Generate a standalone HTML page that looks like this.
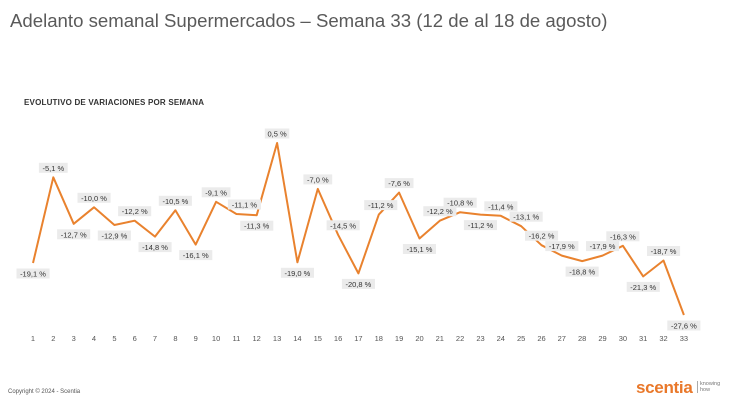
<!DOCTYPE html>
<html><head><meta charset="utf-8"><style>
body{margin:0;width:730px;height:402px;background:#fff;font-family:"Liberation Sans",sans-serif;overflow:hidden;position:relative}
.t{position:absolute;left:10px;top:10px;font-size:18.6px;color:#5a5a5a;white-space:nowrap}
.s{position:absolute;left:24px;top:98px;font-size:8px;font-weight:bold;color:#333;letter-spacing:0.2px}
.c{position:absolute;left:8px;top:389px;font-size:6px;color:#555}
.logo{position:absolute;left:636px;top:378px;font-size:17px;font-weight:bold;color:#e9782a;letter-spacing:-0.3px}
.kh{position:absolute;left:697px;top:381px;font-size:5.5px;color:#777;line-height:6px;border-left:1px solid #aaa;padding-left:2px}
</style></head><body>
<div class="t">Adelanto semanal Supermercados – Semana 33 (12 de al 18 de agosto)</div>
<div class="s">EVOLUTIVO DE VARIACIONES POR SEMANA</div>
<svg id="g" width="730" height="402" style="position:absolute;left:0;top:0"></svg>
<div class="c">Copyright © 2024 - Scentia</div>
<div class="logo">scentia</div>
<div class="kh">knowing<br>how</div>
<script>
var v=[-19.1,-5.1,-12.7,-10.0,-12.9,-12.2,-14.8,-10.5,-16.1,-9.1,-11.1,-11.3,0.5,-19.0,-7.0,-14.5,-20.8,-11.2,-7.6,-15.1,-12.2,-10.8,-11.2,-11.4,-13.1,-16.2,-17.9,-18.8,-17.9,-16.3,-21.3,-18.7,-27.6];
var below=[1,3,5,7,9,12,14,17,20,23,28,31,33];
var dx={11:8,16:5,18:2,21:0,25:5,26:0,27:0,29:0};
var s='',pts=[];
for(var i=0;i<33;i++){var x=33+i*20.34,y=143+(0.5-v[i])*6.12;pts.push(x.toFixed(1)+','+y.toFixed(1));
s+='<text x="'+x.toFixed(1)+'" y="341" font-size="7.5" fill="#555" text-anchor="middle">'+(i+1)+'</text>';
var lab=v[i].toFixed(1).replace('.',',')+' %';var b=below.indexOf(i+1)>=0;var ly=b?y+11:y-9;var lx=x+(dx[i+1]||0);
var w=lab.length*4.3+3;
s+='<rect x="'+(lx-w/2).toFixed(1)+'" y="'+(ly-5.5).toFixed(1)+'" width="'+w.toFixed(1)+'" height="10" fill="#ebebeb"/>';
s+='<text x="'+lx.toFixed(1)+'" y="'+(ly+2.5).toFixed(1)+'" font-size="7.5" fill="#333" text-anchor="middle">'+lab+'</text>';}
s='<polyline points="'+pts.join(' ')+'" fill="none" stroke="#e9822e" stroke-width="2" stroke-linejoin="round"/>'+s;
document.getElementById('g').innerHTML=s;
</script>
</body></html>
